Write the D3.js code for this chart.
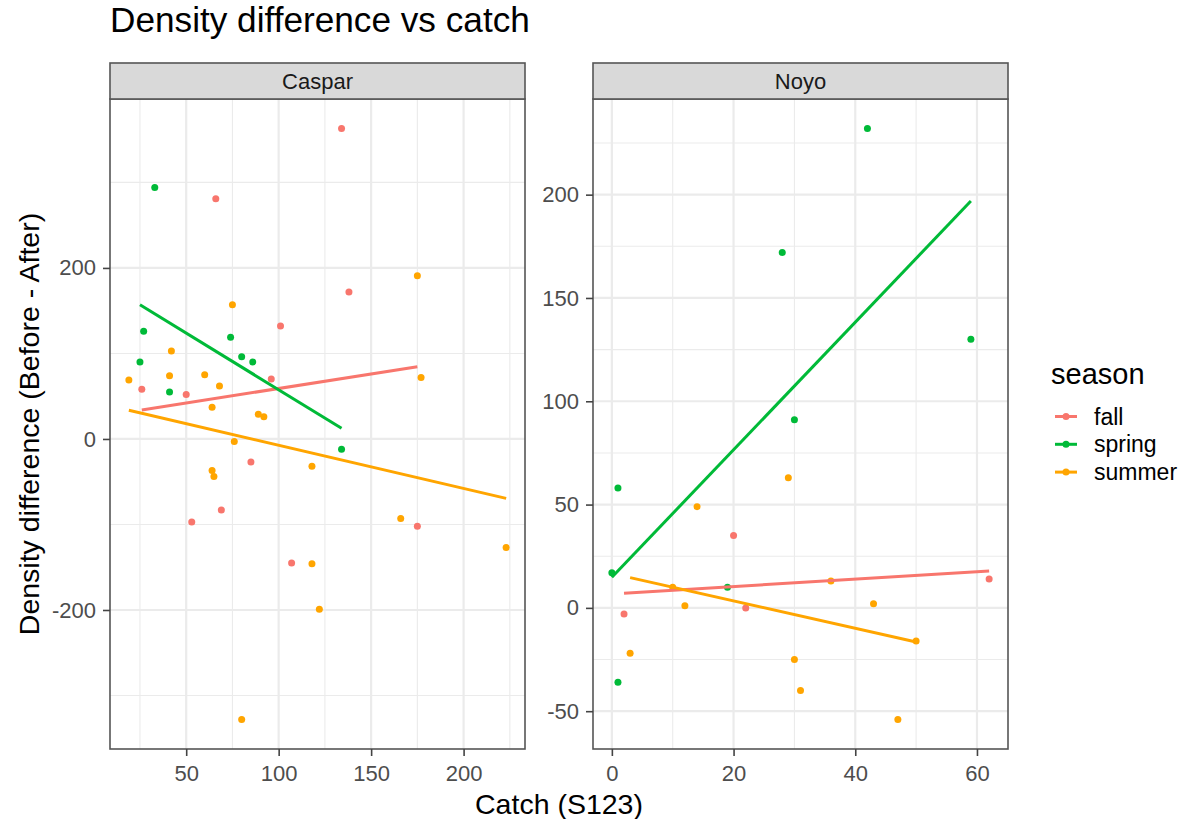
<!DOCTYPE html>
<html>
<head>
<meta charset="utf-8">
<script src="https://cdn.jsdelivr.net/npm/d3@7"></script>
<style>
  body { margin: 0; background: #fff; }
  svg { display: block; font-family: "Liberation Sans", Arial, Helvetica, sans-serif; }
</style>
</head>
<body>
<svg id="chart" width="1183" height="819"></svg>
<script>
// ---- data: catch (S123) and density difference (before - after) per site and season ----
const seasons = ["fall", "spring", "summer"];
const sites = ["Caspar", "Noyo"];

const casparFallCatch   = [26, 50, 53, 66, 69, 85, 96, 101, 107, 134, 138, 175];
const casparFallDiff    = [58, 52, -97, 281, -83, -27, 70, 132, -145, 363, 172, -102];
const casparSpringCatch = [25, 27, 33, 41, 74, 80, 86, 134];
const casparSpringDiff  = [90, 126, 294, 55, 119, 96, 90, -12];
const casparSummerCatch = [19, 41, 42, 60, 64, 64, 65, 68, 75, 76, 80, 89, 92, 118, 118, 122, 166, 175, 177, 223];
const casparSummerDiff  = [69, 74, 103, 75, 37, -37, -44, 62, 157, -3, -328, 29, 26, -32, -146, -199, -93, 191, 72, -127];

const noyoFallCatch   = [2, 20, 22, 62];
const noyoFallDiff    = [-3, 35, 0, 14];
const noyoSpringCatch = [0, 1, 1, 19, 28, 30, 42, 59];
const noyoSpringDiff  = [17, 58, -36, 10, 172, 91, 232, 130];
const noyoSummerCatch = [3, 10, 12, 14, 29, 30, 31, 36, 43, 47, 50];
const noyoSummerDiff  = [-22, 10, 1, 49, 63, -25, -40, 13, 2, -54, -16];

// tick labels
const casparXTicks = [50, 100, 150, 200];
const casparYTicks = [-200, 0, 200];
const noyoXTicks = [0, 20, 40, 60];
const noyoYTicks = [-50, 0, 50, 100, 150, 200];

// ---- build per-panel tables ----
function zipRows(season, xs, ys) {
  return xs.map((x, i) => ({ season, x, y: ys[i] }));
}
const panelData = {
  Caspar: [
    ...zipRows("fall", casparFallCatch, casparFallDiff),
    ...zipRows("spring", casparSpringCatch, casparSpringDiff),
    ...zipRows("summer", casparSummerCatch, casparSummerDiff)
  ],
  Noyo: [
    ...zipRows("fall", noyoFallCatch, noyoFallDiff),
    ...zipRows("spring", noyoSpringCatch, noyoSpringDiff),
    ...zipRows("summer", noyoSummerCatch, noyoSummerDiff)
  ]
};
const panelTicks = {
  Caspar: { x: casparXTicks, y: casparYTicks },
  Noyo: { x: noyoXTicks, y: noyoYTicks }
};

// ---- styling ----
const color = d3.scaleOrdinal().domain(seasons).range(["#F8766D", "#00BA38", "#FFA500"]);
const FONT_TICK = 22, FONT_AXIS = 28.5, FONT_TITLE = 35.2, FONT_STRIP = 22;
const FONT_LEG_TITLE = 29, FONT_LEG_TEXT = 23;
const panelTop = 99, panelBottom = 749, stripTop = 63;
const panelX = { Caspar: [110, 525], Noyo: [593, 1008] };

const svg = d3.select("#chart");

// ordinary least-squares fit over a group, drawn across its x range
function lmLine(rows) {
  const mx = d3.mean(rows, d => d.x), my = d3.mean(rows, d => d.y);
  const sxy = d3.sum(rows, d => (d.x - mx) * (d.y - my));
  const sxx = d3.sum(rows, d => (d.x - mx) ** 2);
  const b = sxy / sxx, a = my - b * mx;
  const [x0, x1] = d3.extent(rows, d => d.x);
  return [{ x: x0, y: a + b * x0 }, { x: x1, y: a + b * x1 }];
}

function expanded(vals) {
  const [lo, hi] = d3.extent(vals);
  const pad = (hi - lo) * 0.05;
  return [lo - pad, hi + pad];
}

// minor breaks halfway between majors, extended one step outward
function minorBreaks(major, domain) {
  const step = major[1] - major[0];
  const out = [];
  for (let v = major[0] - step / 2; v <= major[major.length - 1] + step; v += step) {
    if (v >= domain[0] && v <= domain[1]) out.push(v);
  }
  return out;
}

sites.forEach(site => {
  const rows = panelData[site];
  const [left, right] = panelX[site];
  const xDom = expanded(rows.map(d => d.x));
  const yDom = expanded(rows.map(d => d.y));
  const x = d3.scaleLinear().domain(xDom).range([left, right]);
  const y = d3.scaleLinear().domain(yDom).range([panelBottom, panelTop]);
  const ticks = panelTicks[site];

  const g = svg.append("g");

  // panel background
  g.append("rect").attr("x", left).attr("y", panelTop)
    .attr("width", right - left).attr("height", panelBottom - panelTop).attr("fill", "#fff");

  // minor grid
  const grid = g.append("g");
  minorBreaks(ticks.x, xDom).forEach(v => {
    grid.append("line").attr("x1", x(v)).attr("x2", x(v)).attr("y1", panelTop).attr("y2", panelBottom)
      .attr("stroke", "#EBEBEB").attr("stroke-width", 1.1);
  });
  minorBreaks(ticks.y, yDom).forEach(v => {
    grid.append("line").attr("y1", y(v)).attr("y2", y(v)).attr("x1", left).attr("x2", right)
      .attr("stroke", "#EBEBEB").attr("stroke-width", 1.1);
  });
  // major grid
  ticks.x.forEach(v => {
    grid.append("line").attr("x1", x(v)).attr("x2", x(v)).attr("y1", panelTop).attr("y2", panelBottom)
      .attr("stroke", "#EBEBEB").attr("stroke-width", 2.2);
  });
  ticks.y.forEach(v => {
    grid.append("line").attr("y1", y(v)).attr("y2", y(v)).attr("x1", left).attr("x2", right)
      .attr("stroke", "#EBEBEB").attr("stroke-width", 2.2);
  });

  // points
  g.append("g").selectAll("circle").data(rows).join("circle")
    .attr("cx", d => x(d.x)).attr("cy", d => y(d.y)).attr("r", 3.5)
    .attr("fill", d => color(d.season));

  // linear fits
  const line = d3.line().x(d => x(d.x)).y(d => y(d.y));
  seasons.forEach(s => {
    const grp = rows.filter(d => d.season === s);
    if (grp.length < 2) return;
    g.append("path").attr("d", line(lmLine(grp)))
      .attr("fill", "none").attr("stroke", color(s)).attr("stroke-width", 3);
  });

  // panel border
  g.append("rect").attr("x", left).attr("y", panelTop)
    .attr("width", right - left).attr("height", panelBottom - panelTop)
    .attr("fill", "none").attr("stroke", "#555").attr("stroke-width", 1.6);

  // strip
  g.append("rect").attr("x", left).attr("y", stripTop)
    .attr("width", right - left).attr("height", panelTop - stripTop)
    .attr("fill", "#D9D9D9").attr("stroke", "#555").attr("stroke-width", 1.6);
  g.append("text").attr("x", (left + right) / 2).attr("y", (stripTop + panelTop) / 2)
    .attr("dy", "0.36em").attr("text-anchor", "middle")
    .attr("font-size", FONT_STRIP).attr("fill", "#1A1A1A").text(site);

  // axes
  const xAxis = g.append("g").attr("transform", `translate(0,${panelBottom})`)
    .call(d3.axisBottom(x).tickValues(ticks.x).tickSize(7).tickPadding(9.5).tickFormat(d3.format("d")));
  const yAxis = g.append("g").attr("transform", `translate(${left},0)`)
    .call(d3.axisLeft(y).tickValues(ticks.y).tickSize(7).tickPadding(7).tickFormat(d => d < 0 ? "-" + Math.abs(d) : d));
  [xAxis, yAxis].forEach(ax => {
    ax.attr("font-family", null).attr("font-size", FONT_TICK);
    ax.select(".domain").remove();
    ax.selectAll(".tick line").attr("stroke", "#444").attr("stroke-width", 1.6);
    ax.selectAll(".tick text").attr("fill", "#4D4D4D");
  });
});

// titles
svg.append("text").attr("x", 110).attr("y", 32).attr("font-size", FONT_TITLE)
  .attr("fill", "#000").text("Density difference vs catch");
svg.append("text").attr("x", 559).attr("y", 814).attr("text-anchor", "middle")
  .attr("font-size", FONT_AXIS).attr("fill", "#000").text("Catch (S123)");
svg.append("text").attr("transform", "translate(39,424) rotate(-90)").attr("text-anchor", "middle")
  .attr("font-size", FONT_AXIS).attr("fill", "#000").text("Density difference (Before - After)");

// legend
const legend = svg.append("g");
legend.append("text").attr("x", 1051).attr("y", 384).attr("font-size", FONT_LEG_TITLE)
  .attr("fill", "#000").text("season");
seasons.forEach((s, i) => {
  const cy = 416.5 + i * 27.8;
  legend.append("line").attr("x1", 1055).attr("x2", 1077).attr("y1", cy).attr("y2", cy)
    .attr("stroke", color(s)).attr("stroke-width", 3);
  legend.append("circle").attr("cx", 1066).attr("cy", cy).attr("r", 3.5).attr("fill", color(s));
  legend.append("text").attr("x", 1094).attr("y", cy).attr("dy", "0.35em")
    .attr("font-size", FONT_LEG_TEXT).attr("fill", "#000").text(s);
});
</script>
</body>
</html>
